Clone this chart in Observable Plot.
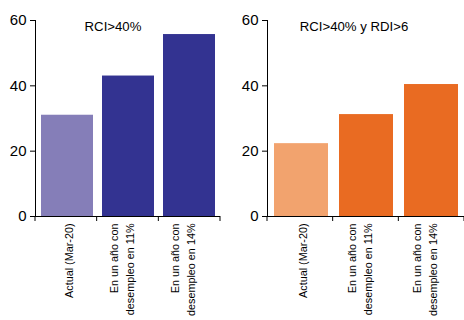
<!DOCTYPE html>
<html><head><meta charset="utf-8">
<script src="https://cdn.jsdelivr.net/npm/d3@7"></script>
<script src="https://cdn.jsdelivr.net/npm/@observablehq/plot@0.6"></script>
<style>
body{margin:0;background:#fff}
#c{display:flex;width:464px;height:320px;overflow:hidden}
</style>
</head><body><div id="c"></div>
<script>
const categories = ["Actual (Mar-20)", "En un año con\ndesempleo en 11%", "En un año con\ndesempleo en 14%"];
const rciValues = [31, 43, 55.7];
const rciRdiValues = [22.3, 31.2, 40.4];
const titles = ["RCI>40%", "RCI>40% y RDI>6"];
const yTicks = [0, 20, 40, 60];

const font = "'Liberation Sans', Arial, sans-serif";

function panel(values, title, colors, opts) {
  const data = categories.map((c, i) => ({cat: c, value: values[i], first: i === 0}));
  return Plot.plot({
    width: 232, height: 320,
    marginLeft: 35, marginRight: opts.mr, marginTop: 20, marginBottom: 104,
    style: {fontFamily: font, fontSize: "15px", background: "transparent", color: "#000", overflow: "visible"},
    x: {domain: categories, paddingInner: opts.pad, paddingOuter: opts.pad / 2, axis: null},
    y: {domain: [0, 60], ticks: yTicks, tickSize: 5, tickPadding: 4, line: true, label: null, grid: false},
    marks: [
      Plot.barY(data, {x: "cat", y: "value", fill: d => d.first ? colors[0] : colors[1]}),
      Plot.ruleY([0], {stroke: "#000"}),
      (index, scales, values, dims) => {
        const g = d3.create("svg:g");
        const n = categories.length;
        const step = (dims.width - dims.marginLeft - dims.marginRight) / n;
        const y0 = scales.y(0);
        for (let i = 0; i <= n; i++) {
          const x = dims.marginLeft + i * step;
          g.append("line").attr("x1", x).attr("x2", x).attr("y1", y0).attr("y2", y0 + 5).attr("stroke", "#000");
        }
        return g.node();
      },
      Plot.text(data, {x: "cat", y: 0, text: "cat", rotate: -90, textAnchor: "end", lineAnchor: "bottom", lineHeight: 1.5, dx: 5.5, dy: 7, fontSize: 10.8, fill: "#000"}),
      Plot.text([title], {frameAnchor: "top", lineAnchor: "top", dy: 1, dx: opts.tdx, fontSize: 13.2, fill: "#000"})
    ]
  });
}

const c = document.getElementById("c");
c.append(panel(rciValues, titles[0], ["#857eb8", "#333391"], {mr: 12, pad: 0.15, tdx: -15}));
c.append(panel(rciRdiValues, titles[1], ["#f2a36e", "#e96b22"], {mr: 0, pad: 0.17, tdx: -12}));
</script>
</body></html>
